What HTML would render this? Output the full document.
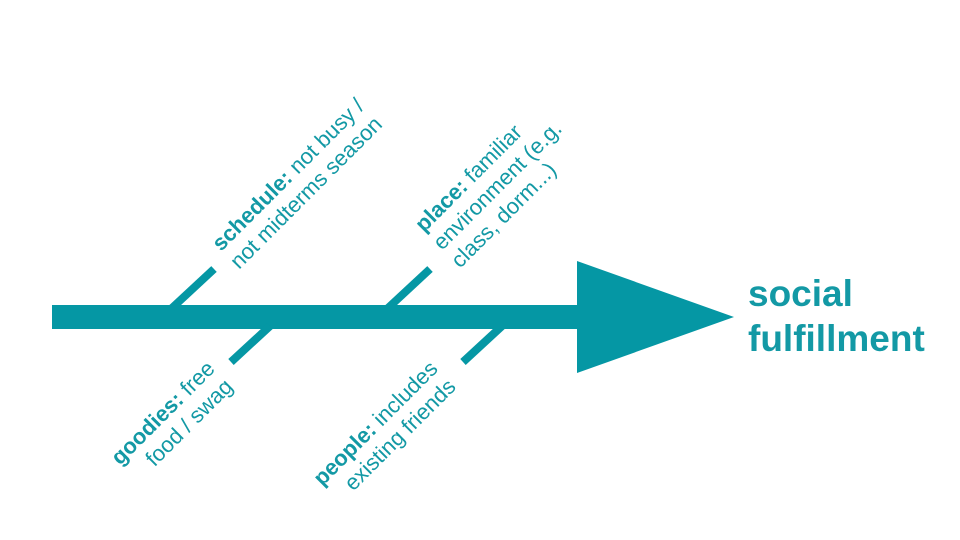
<!DOCTYPE html>
<html><head><meta charset="utf-8"><style>
html,body{margin:0;padding:0;background:#fff;}
svg{display:block;}
text{font-family:"Liberation Sans",Arial,sans-serif;fill:#1399a5;font-size:22px;}
.b{font-weight:bold;}
</style></head><body>
<svg width="960" height="540" viewBox="0 0 960 540" xmlns="http://www.w3.org/2000/svg">
<g fill="#0597a4" stroke="none">
<rect x="52" y="305" width="530" height="24"/>
<polygon points="577,261 577,373 734,317"/>
</g>
<g stroke="#0597a4" stroke-width="8" fill="none">
<line x1="172" y1="308" x2="214" y2="269"/>
<line x1="388" y1="308" x2="430" y2="269"/>
<line x1="270" y1="326" x2="231" y2="362"/>
<line x1="502" y1="326" x2="463" y2="362"/>
</g>
<text transform="translate(221,252) rotate(-45)"><tspan class="b">schedule:</tspan> not busy /</text>
<text transform="translate(239,270) rotate(-45)">not midterms season</text>
<text transform="translate(424,233) rotate(-45)"><tspan class="b">place:</tspan> familiar</text>
<text transform="translate(442,251) rotate(-45)">environment (e.g.</text>
<text transform="translate(460,269) rotate(-45)">class, dorm...)</text>
<text text-anchor="end" transform="translate(216,370) rotate(-45)"><tspan class="b">goodies:</tspan> free</text>
<text text-anchor="end" transform="translate(234,388) rotate(-45)">food / swag</text>
<text text-anchor="end" transform="translate(439,370) rotate(-45)"><tspan class="b">people:</tspan> includes</text>
<text text-anchor="end" transform="translate(457,388) rotate(-45)">existing friends</text>
<text x="748" y="306" class="b" style="font-size:37px">social</text>
<text x="748" y="351" class="b" style="font-size:37px">fulfillment</text>
</svg>
</body></html>
